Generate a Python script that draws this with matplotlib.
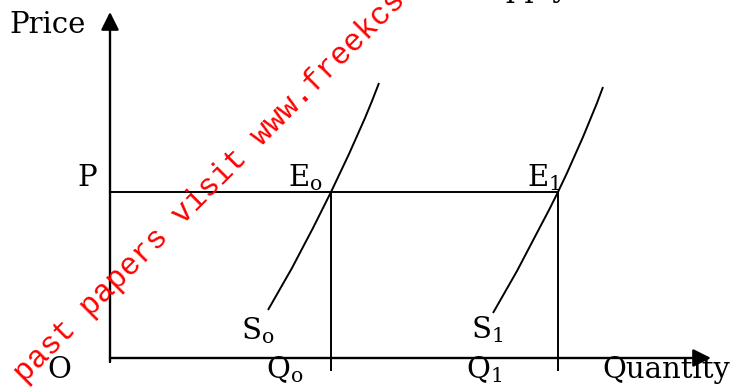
import matplotlib
matplotlib.use("Agg")
import matplotlib.pyplot as plt

# ---- data (schematic units, origin at O) ----
price_level = 166
quantities = [221, 448]          # Q0, Q1
s0_q = [158, 170, 182, 193, 203, 212, 221, 230, 239, 247, 255, 262, 269]
s0_p = [48, 69, 90, 111, 130, 148, 166, 185, 204, 222, 240, 257, 275]
s1_q = [383, 395, 407, 418, 429, 439, 448, 457, 465, 473, 480, 487, 493]
s1_p = [45, 66, 87, 108, 129, 148, 166, 185, 203, 221, 238, 255, 271]
x_axis_end = 601
y_axis_end = 346

plt.rcParams['mathtext.fontset'] = 'custom'
plt.rcParams['mathtext.rm'] = 'DejaVu Serif'
plt.rcParams['mathtext.it'] = 'DejaVu Serif'

fig = plt.figure(figsize=(7.38, 3.88), dpi=100)
ax = fig.add_axes([0, 0, 1, 1])
ax.set_xlim(-110, 628)
ax.set_ylim(-30, 358)
ax.axis('off')

k = dict(color='black', lw=1.4, solid_capstyle='butt', solid_joinstyle='round')
arrow = dict(arrowstyle='-|>,head_length=0.4,head_width=0.2',
             mutation_scale=27, lw=1.7, color='black', shrinkA=0, shrinkB=0)
ax.annotate('', xy=(0, y_axis_end), xytext=(0, -4), arrowprops=arrow)
ax.annotate('', xy=(x_axis_end, 0), xytext=(0, 0), arrowprops=arrow)

# price line
ax.plot([0, quantities[1]], [price_level, price_level], **k)
# vertical quantity lines
for q in quantities:
    ax.plot([q, q], [price_level, -13], **k)
# supply curves
ax.plot(s0_q, s0_p, **k)
ax.plot(s1_q, s1_p, **k)

fs = 21
tk = dict(fontsize=fs, family='DejaVu Serif', color='black', va='baseline', ha='left')
ax.text(-101, 325, 'Price', **tk)
ax.text(-33, 172, 'P', **tk)
ax.text(178, 172, r'E$_\mathrm{o}$', **tk)
ax.text(417, 172, r'E$_\mathrm{1}$', **tk)
ax.text(131, 19, r'S$_\mathrm{o}$', **tk)
ax.text(361, 20, r'S$_\mathrm{1}$', **tk)
ax.text(-63, -20, 'O', **tk)
ax.text(156, -20, r'Q$_\mathrm{o}$', **tk)
ax.text(356, -20, r'Q$_\mathrm{1}$', **tk)
ax.text(492, -20, 'Quantity', **tk)
ax.text(358, 361, 'Supply', **tk)

# watermark
ax.text(-94 - 110, 358 - 502, 'For more past papers visit www.freekcsepastpapers.com',
        fontsize=22.4, family='Liberation Mono', color='red', rotation=45,
        rotation_mode='anchor', ha='left', va='baseline', clip_on=False)

fig.savefig('out.png', dpi=100)
